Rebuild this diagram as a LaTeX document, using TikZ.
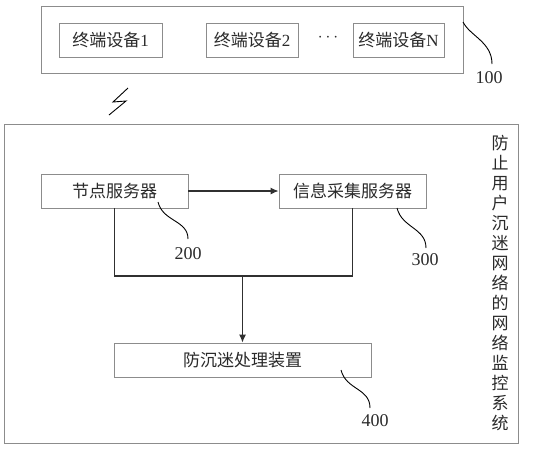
\documentclass[tikz,border=0pt]{standalone}
\usepackage{fontspec}
\setmainfont{Liberation Serif}
\newfontfamily\cjk{Noto Sans CJK SC}
\usetikzlibrary{arrows.meta}
\definecolor{boxgray}{HTML}{8C8C8C}
\definecolor{txtgray}{HTML}{2A2A2A}
\definecolor{linegray}{HTML}{303030}
\begin{document}
\begin{tikzpicture}[x=1pt,y=-1pt,
  box/.style={draw=boxgray, line width=0.9pt, inner sep=0pt, minimum height=34pt, text=txtgray, font=\fontsize{17}{20}\selectfont},
  outer/.style={draw=boxgray, line width=0.9pt, inner sep=0pt},
  conn/.style={draw=linegray, line width=1.1pt},
  leader/.style={draw=black, line width=0.9pt},
  lbl/.style={text=txtgray, inner sep=0pt, font=\fontsize{18}{20}\selectfont}]
\useasboundingbox (0,0) rectangle (545,450);
\fill[white] (0,0) rectangle (545,450);
% top group
\node[outer, minimum width=422pt, minimum height=67pt] (top) at (252,39.5) {};
\node[box, minimum width=103pt] (t1) at (110.5,40) {{\cjk 终端设备}1};
\node[box, minimum width=92pt] (t2) at (252,40) {{\cjk 终端设备}2};
\node[text=txtgray, inner sep=0pt, font=\fontsize{16}{18}\selectfont] (dots) at (328,38) {$\cdots$};
\node[box, minimum width=91pt] (tn) at (398.5,40) {{\cjk 终端设备}N};
\coordinate (c100) at (463,22);
\node[lbl] (l100) at (489,78) {100};
\draw[leader] (c100) .. controls (470,36) and (492,42) .. (492,64);
% lightning
\draw[black, line width=0.9pt] (128,88) -- (113,102) -- (126,101) -- (109,115);
% bottom group
\node[outer, minimum width=514pt, minimum height=319pt] (sys) at (261,283.5) {};
\node[box, minimum width=147pt] (ns) at (114.5,191) {{\cjk 节点服务器}};
\node[box, minimum width=147pt] (is) at (352.5,191) {{\cjk 信息采集服务器}};
\node[box, minimum width=257pt] (hd) at (242.5,360) {{\cjk 防沉迷处理装置}};
\coordinate (mid) at (242.5,276);
\draw[conn, -{Latex[length=8pt,width=7pt]}] (ns.east) -- (is.west);
\draw[conn] (ns.south) |- (mid) -| (is.south);
\draw[conn, -{Latex[length=8pt,width=7pt]}] (mid) -- (hd.north);
% leaders
\coordinate (c200) at (158,202);
\coordinate (c300) at (397,208);
\coordinate (c400) at (341,370);
\draw[leader] (c200) .. controls (163,222) and (188,220) .. (188,239);
\draw[leader] (c300) .. controls (402,228) and (426,228) .. (426,248);
\draw[leader] (c400) .. controls (346,390) and (370,388) .. (370,408);
\node[lbl] (l200) at (188,254) {200};
\node[lbl] (l300) at (425,260) {300};
\node[lbl] (l400) at (375,421) {400};
% vertical title
\node[text=txtgray, inner sep=0pt, align=center, font=\cjk\fontsize{17}{20}\selectfont] (title) at (500,283)
 {防\\止\\用\\户\\沉\\迷\\网\\络\\的\\网\\络\\监\\控\\系\\统};
\end{tikzpicture}
\end{document}
